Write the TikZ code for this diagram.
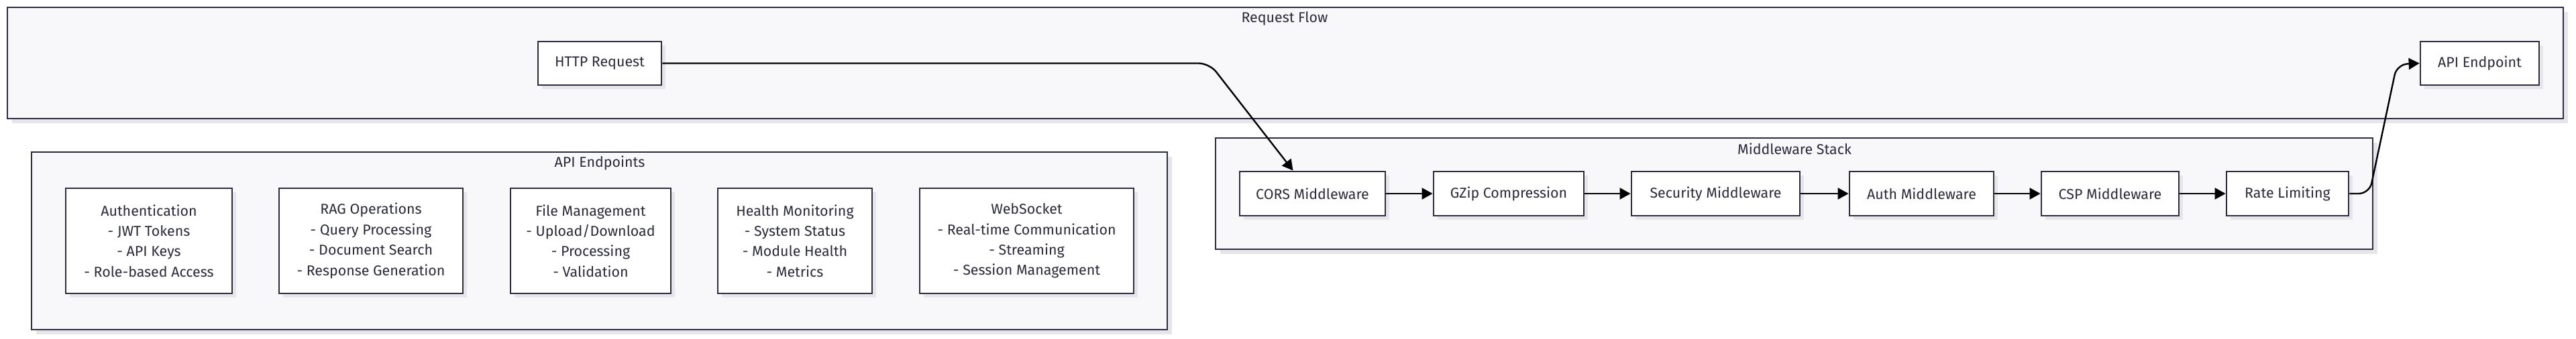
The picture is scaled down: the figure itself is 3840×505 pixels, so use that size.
\documentclass[tikz,border=0pt]{standalone}
\usepackage{fontspec}
\setmainfont{Fira Sans}
\usetikzlibrary{arrows.meta,shadows}
\definecolor{bord}{HTML}{2D2D42}
\definecolor{clfill}{HTML}{F8F8FA}
\definecolor{shad}{HTML}{E6E6EA}
\definecolor{txt}{HTML}{2A2A3C}
\begin{document}
\begin{tikzpicture}[x=0.5pt,y=-0.5pt,
  cluster/.style={draw=bord, line width=1.4pt, fill=clfill, inner sep=0pt,
    drop shadow={shadow xshift=3.5pt, shadow yshift=-3.5pt, fill=shad, opacity=1}},
  box/.style={draw=bord, line width=1.4pt, fill=white, text=txt, align=center, inner sep=0pt,
    font=\fontsize{10.7}{15.2}\selectfont,
    drop shadow={shadow xshift=3pt, shadow yshift=-3pt, fill=shad, opacity=1}},
  title/.style={text=txt, inner sep=0pt, font=\fontsize{10.7}{13}\selectfont},
  flow/.style={-{Triangle[length=8pt,width=8.5pt]}, line width=1.2pt, black},
]
\useasboundingbox (0,0) rectangle (3840,505);
\fill[white] (0,0) rectangle (3840,505);

% clusters
\node[cluster, minimum width=1905pt, minimum height=83pt] (rf) at (1916,94) {};
\node[title] (rft) at (1915,28) {Request Flow};
\node[cluster, minimum width=862.5pt, minimum height=83pt] (mw) at (2674.5,289) {};
\node[title] (mwt) at (2675,222) {Middleware Stack};
\node[cluster, minimum width=846.5pt, minimum height=132.5pt] (ae) at (893.5,359.5) {};
\node[title] (aet) at (894,243) {API Endpoints};

% request flow nodes
\node[box, minimum width=92pt, minimum height=32.5pt] (http) at (894,94.5) {HTTP Request};
\node[box, minimum width=88.5pt, minimum height=32.5pt] (api) at (3696.5,94.5) {API Endpoint};

% middleware nodes
\node[box, minimum width=108.5pt, minimum height=33pt] (cors) at (1956.5,289) {CORS Middleware};
\node[box, minimum width=112pt, minimum height=33pt] (gzip) at (2249,289) {GZip Compression};
\node[box, minimum width=125.5pt, minimum height=33pt] (sec) at (2557.5,289) {Security Middleware};
\node[box, minimum width=107.5pt, minimum height=33pt] (authm) at (2864.5,289) {Auth Middleware};
\node[box, minimum width=102.5pt, minimum height=33pt] (csp) at (3145.5,289) {CSP Middleware};
\node[box, minimum width=91pt, minimum height=33pt] (rate) at (3410,289) {Rate Limiting};

% endpoint nodes
\node[box, minimum width=124pt, minimum height=78.5pt] (auth) at (222,359.5) {Authentication\\- JWT Tokens\\- API Keys\\- Role-based Access};
\node[box, minimum width=137pt, minimum height=78.5pt] (rag) at (553,359.5) {RAG Operations\\- Query Processing\\- Document Search\\- Response Generation};
\node[box, minimum width=119.5pt, minimum height=78.5pt] (file) at (880.5,359.5) {File Management\\- Upload/Download\\- Processing\\- Validation};
\node[box, minimum width=115pt, minimum height=78.5pt] (health) at (1185,359.5) {Health Monitoring\\- System Status\\- Module Health\\- Metrics};
\node[box, minimum width=159.5pt, minimum height=78.5pt] (ws) at (1530.5,359.5) {WebSocket\\- Real-time Communication\\- Streaming\\- Session Management};

% connectors
\coordinate (b1) at (1803,94.5);
\coordinate (b2) at (3532,289);
\coordinate (b3) at (3573,96);
\draw[flow, rounded corners=8pt] (http.east) -- (b1) -- ([xshift=-14.5pt]cors.north);
\draw[flow] (cors.east) -- (gzip.west);
\draw[flow] (gzip.east) -- (sec.west);
\draw[flow] (sec.east) -- (authm.west);
\draw[flow] (authm.east) -- (csp.west);
\draw[flow] (csp.east) -- (rate.west);
\draw[flow, rounded corners=8pt] (rate.east) -- (b2) -- (b3) -- (api.west);
\end{tikzpicture}
\end{document}
